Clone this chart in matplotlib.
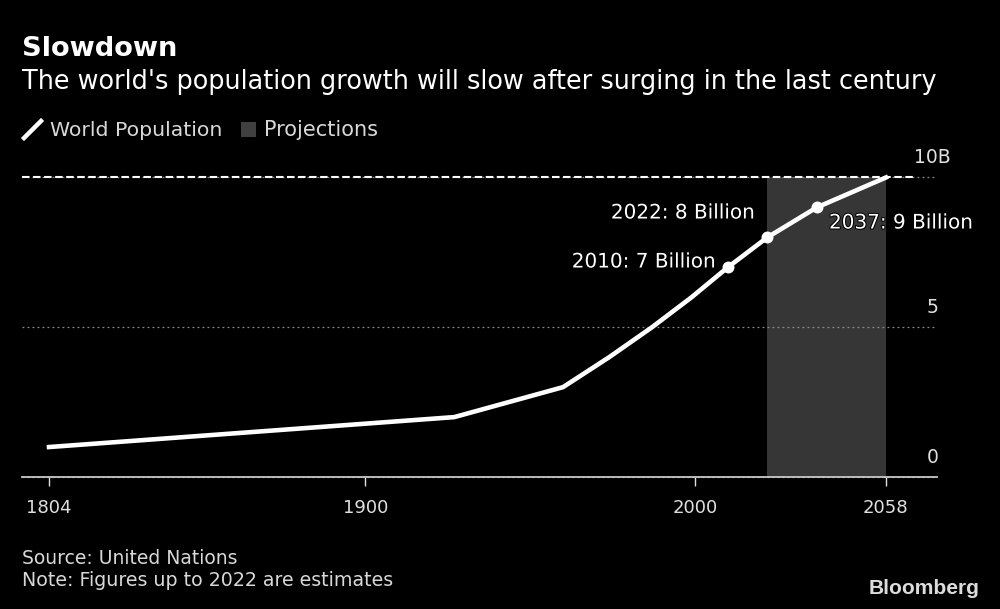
import matplotlib
matplotlib.use("Agg")
import matplotlib.pyplot as plt
from matplotlib.lines import Line2D
from matplotlib.patches import Rectangle
from matplotlib.transforms import ScaledTranslation
import matplotlib.patheffects as pe

years = [1804, 1927, 1960, 1974, 1987, 1999, 2010, 2022, 2037, 2058]
population = [1, 2, 3, 4, 5, 6, 7, 8, 9, 10]
marked_years = [2010, 2022, 2037]
marked_values = [7, 8, 9]
marked_labels = ["2010: 7 Billion", "2022: 8 Billion", "2037: 9 Billion"]
projection_span = (2022, 2058)
x_ticks = [1804, 1900, 2000, 2058]
y_ticks = [0, 5, 10]
y_tick_labels = ["0", "5", "10B"]

W, H = 1000, 609
plt.rcParams["font.family"] = "DejaVu Sans"
fig = plt.figure(figsize=(10, 6.09), dpi=100, facecolor="black")
ax = fig.add_axes([22 / W, (H - 477) / H, (937 - 22) / W, 299.5 / H], facecolor="black")
ax.set_xlim(1795.8, 2073.5)
ax.set_ylim(0, 10)

ax.axvspan(*projection_span, color="#363636", lw=0, zorder=1)
ax.yaxis.tick_right()
ax.set_yticks(y_ticks)
ax.set_yticklabels(y_tick_labels)
ax.grid(axis="y", color="#8a8a8a", lw=0.9, ls=(0, (1.5, 2.5)), zorder=2, clip_on=False)
ax.axhline(10, xmax=(915 - 22) / 915, color="white", lw=1.5, ls=(0, (3.6, 1.7)), zorder=3, clip_on=False)

ax.plot(years, population, color="white", lw=3.3, solid_capstyle="projecting",
        solid_joinstyle="round", clip_on=False, zorder=4)
ax.plot(marked_years, marked_values, "o", color="white", ms=8.6, mew=0, zorder=5)

for s in ["top", "left", "right"]:
    ax.spines[s].set_visible(False)
ax.spines["bottom"].set_color("#c8c8c8")
ax.spines["bottom"].set_linewidth(1.3)

ax.set_xticks(x_ticks)
ax.set_xticklabels([str(v) for v in x_ticks])
ax.tick_params(axis="x", colors="#e0e0e0", length=6.5, width=1, pad=9, labelsize=13)
ax.tick_params(axis="y", length=0, labelcolor="#e0e0e0", labelsize=13.5, pad=1)
ax.yaxis.get_major_ticks()[2].set_pad(10)
up = ScaledTranslation(0, 10 / 100, fig.dpi_scale_trans)
for i, lab in enumerate(ax.get_yticklabels()):
    lab.set_va("bottom")
    lab.set_ha("right")
    lab.set_transform(lab.get_transform() + up)

aligns = ["right", "right", "left"]
px = [(716, 262), (755, 213), (829, 223)]
for (xx, yy), t, ha in zip(px, marked_labels, aligns):
    fig.text(xx / W, 1 - yy / H, t, color="white", fontsize=14.4, ha=ha, va="center",
             path_effects=[pe.withStroke(linewidth=1.5, foreground="black")], zorder=6)

fig.text(22 / W, 1 - 49 / H, "Slowdown", color="white", fontsize=19.6, fontweight="bold", va="center")
fig.text(22 / W, 1 - 82 / H, "The world's population growth will slow after surging in the last century",
         color="white", fontsize=18.38, va="center")

fig.add_artist(Line2D([24 / W, 41 / W], [1 - 138 / H, 1 - 121 / H], color="white", lw=3.2))
fig.text(50 / W, 1 - 130 / H, "World Population", color="#d8d8d8", fontsize=14.7, va="center")
fig.add_artist(Rectangle((241 / W, 1 - 137 / H), 15 / W, 15 / H, transform=fig.transFigure,
                         color="#404040", lw=0))
fig.text(264 / W, 1 - 130 / H, "Projections", color="#d8d8d8", fontsize=15, va="center")

fig.text(22 / W, 1 - 558 / H, "Source: United Nations", color="#d8d8d8", fontsize=13.5, va="center")
fig.text(22 / W, 1 - 581 / H, "Note: Figures up to 2022 are estimates", color="#d8d8d8", fontsize=13.7, va="center")
fig.text(979 / W, 1 - 588 / H, "Bloomberg", color="#dcdcdc", fontsize=15.1, fontweight="bold",
         family="Liberation Sans", ha="right", va="center")

fig.savefig("out.png", dpi=100, facecolor="black")
